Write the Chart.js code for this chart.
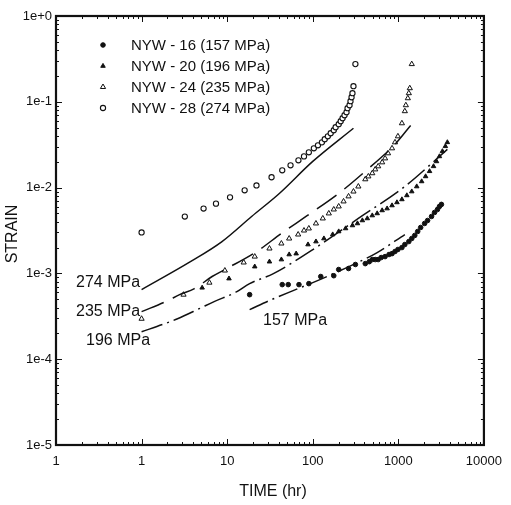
<!DOCTYPE html>
<html><head><meta charset="utf-8">
<script src="https://cdn.jsdelivr.net/npm/chart.js@4/dist/chart.umd.min.js"></script>
<style>html,body{margin:0;padding:0;background:#fff}#wrap{width:511px;height:505px;position:relative}</style>
</head><body><div id="wrap"><canvas id="c" width="511" height="505"></canvas></div>
<script>
// ---- axis ticks ----
const xTickValues = [0.1, 1, 10, 100, 1000, 10000];
const xTickLabels = ["1", "1", "10", "100", "1000", "10000"];
const yTickValues = [1e-5, 1e-4, 1e-3, 1e-2, 1e-1, 1];
const yTickLabels = ["1e-5", "1e-4", "1e-3", "1e-2", "1e-1", "1e+0"];

// ---- measured data ----
const nyw16Time = [18.3,44,51.7,69,90,124,176,201,262,315,411,458,496,537,581,630,700,779,844,914,989,1101,1191,1326,1435,1555,1683,1824,2028,2198,2443,2648,2866,3022,3187];
const nyw16Strain = [5.65e-4,7.4e-4,7.4e-4,7.4e-4,7.6e-4,9.2e-4,9.4e-4,1.11e-3,1.14e-3,1.27e-3,1.30e-3,1.37e-3,1.45e-3,1.45e-3,1.45e-3,1.53e-3,1.57e-3,1.66e-3,1.70e-3,1.80e-3,1.90e-3,2.0e-3,2.17e-3,2.35e-3,2.55e-3,2.77e-3,3.08e-3,3.43e-3,3.82e-3,4.14e-3,4.61e-3,5.13e-3,5.56e-3,6.03e-3,6.37e-3];

const nyw20Time = [5.1,10.5,21,31.2,43,53,64,88,109,135,171,201,242,291,333,380,434,496,566,647,739,844,963,1101,1257,1435,1640,1874,2083,2317,2578,2792,3022,3273,3545,3740];
const nyw20Strain = [6.8e-4,8.7e-4,1.20e-3,1.37e-3,1.45e-3,1.66e-3,1.70e-3,2.17e-3,2.35e-3,2.55e-3,2.84e-3,3.08e-3,3.34e-3,3.62e-3,3.82e-3,4.14e-3,4.37e-3,4.73e-3,5.0e-3,5.42e-3,5.7e-3,6.19e-3,6.72e-3,7.28e-3,8.11e-3,9.0e-3,0.0103,0.0118,0.0135,0.0155,0.0177,0.0202,0.0231,0.0265,0.0303,0.0337];

const nyw24Time = [1.0,3.09,6.2,9.4,15.6,21,31.2,43,53,67.5,79,90,109,131,154,176,201,229,262,299,341,411,446,496,537,581,647,700,758,844,914,989,1101,1191,1224,1291,1326,1361,1435];
const nyw24Strain = [2.96e-4,5.65e-4,7.8e-4,1.08e-3,1.34e-3,1.57e-3,1.95e-3,2.23e-3,2.55e-3,2.84e-3,3.16e-3,3.34e-3,3.82e-3,4.37e-3,5.0e-3,5.56e-3,6.03e-3,6.9e-3,7.9e-3,9.0e-3,0.0103,0.0125,0.0135,0.0147,0.0163,0.0177,0.0197,0.0219,0.0251,0.0287,0.0337,0.0396,0.0562,0.0777,0.0912,0.110,0.126,0.144,0.275];

const nyw28Time = [1.0,3.2,5.3,7.4,10.8,16,22,33,44,55,68,79,90,103,115,128,138,150,162,176,185,201,212,223,235,248,255,269,276,284,291,299,315];
const nyw28Strain = [0.0030,0.0046,0.0057,0.0065,0.0077,0.0093,0.0106,0.0132,0.0159,0.0182,0.0208,0.0231,0.0258,0.0287,0.0311,0.0337,0.0366,0.0396,0.043,0.0466,0.0505,0.0548,0.0593,0.0643,0.0697,0.0756,0.0842,0.0912,0.1016,0.113,0.126,0.152,0.275];

// ---- model curves ----
const m274Time = [1,3.72,8.7,19.3,40.7,100,299];
const m274Strain = [6.47e-4,1.37e-3,2.35e-3,4.61e-3,8.55e-3,0.0202,0.0492];
const m235Time = [1,2.02,2.78,4.14,6.67,9.4,22.1,43,83.4,201,411,914,1397];
const m235Strain = [3.58e-4,4.81e-4,5.65e-4,6.64e-4,9.2e-4,1.11e-3,1.80e-3,2.92e-3,4.61e-3,8.55e-3,0.0155,0.032,0.0533];
const m196Time = [1,1.86,2.63,4.72,7.04,13,18.3,34.7,109,341,1191,3740];
const m196Strain = [2.09e-4,2.59e-4,2.96e-4,3.88e-4,4.69e-4,6.12e-4,7.6e-4,9.95e-4,2.0e-3,4.37e-3,0.0103,0.0279];
const m157Time = [18.3,32.9,59,100,185,315,566,1191];
const m157Strain = [3.78e-4,4.94e-4,6.3e-4,7.8e-4,1.02e-3,1.30e-3,1.75e-3,2.84e-3];

// ---- text ----
const legendLabels = ["NYW - 16 (157 MPa)", "NYW - 20 (196 MPa)", "NYW - 24 (235 MPa)", "NYW - 28 (274 MPa)"];
const curveLabels = ["274 MPa", "235 MPa", "196 MPa", "157 MPa"];
const xTitle = "TIME (hr)";
const yTitle = "STRAIN";

const INK = '#111';
const pts = (t, s) => t.map((v, i) => ({x: v, y: s[i]}));

const markerStyles = [
  {pointStyle: 'circle', radius: 2.3, fill: INK, border: INK, bw: 1},
  {pointStyle: 'triangle', radius: 2.6, fill: INK, border: INK, bw: 1},
  {pointStyle: 'triangle', radius: 3, fill: '#fff', border: INK, bw: 1},
  {pointStyle: 'circle', radius: 2.6, fill: '#fff', border: INK, bw: 1.1}
];
const seriesData = [pts(nyw16Time, nyw16Strain), pts(nyw20Time, nyw20Strain), pts(nyw24Time, nyw24Strain), pts(nyw28Time, nyw28Strain)];

const datasets = [];
const modelDefs = [
  {data: pts(m274Time, m274Strain), dash: []},
  {data: pts(m235Time, m235Strain), dash: [24, 10]},
  {data: pts(m196Time, m196Strain), dash: [22, 5, 2, 5]},
  {data: pts(m157Time, m157Strain), dash: [20, 5, 2, 5]}
];
modelDefs.forEach(m => datasets.push({
  data: m.data, showLine: true, borderColor: INK, borderWidth: 1.5, borderDash: m.dash,
  pointRadius: 0, pointHoverRadius: 0, cubicInterpolationMode: 'monotone', fill: false
}));
seriesData.forEach((d, i) => {
  const st = markerStyles[i];
  datasets.push({data: d, showLine: false, pointStyle: st.pointStyle, pointRadius: st.radius,
    pointBackgroundColor: st.fill, pointBorderColor: st.border, pointBorderWidth: st.bw, pointHoverRadius: st.radius});
});

const decor = {
  id: 'decor',
  afterDatasetsDraw(chart) {
    const {ctx, chartArea: a, scales: {x, y}} = chart;
    ctx.save();
    ctx.strokeStyle = INK;
    ctx.lineWidth = 1;
    ctx.beginPath();
    for (let e = -1; e < 4; e++) {
      for (let k = 1; k < 10; k++) {
        const v = k * Math.pow(10, e);
        const px = Math.round(x.getPixelForValue(v)) + 0.5;
        const len = k === 1 ? 6 : 3;
        ctx.moveTo(px, a.bottom); ctx.lineTo(px, a.bottom - len);
        ctx.moveTo(px, a.top); ctx.lineTo(px, a.top + len);
      }
    }
    for (let e = -5; e < 0; e++) {
      for (let k = 1; k < 10; k++) {
        const v = k * Math.pow(10, e);
        const py = Math.round(y.getPixelForValue(v)) + 0.5;
        const len = k === 1 ? 6 : 3;
        ctx.moveTo(a.left, py); ctx.lineTo(a.left + len, py);
        ctx.moveTo(a.right, py); ctx.lineTo(a.right - len, py);
      }
    }
    ctx.stroke();
    ctx.lineWidth = 2.2;
    ctx.strokeRect(a.left, a.top, a.right - a.left, a.bottom - a.top);
    ctx.restore();
  },
  afterDraw(chart) {
    const {ctx} = chart;
    ctx.save();
    ctx.fillStyle = INK;
    ctx.strokeStyle = INK;
    const rows = [45, 66, 87, 108];
    ctx.font = '15px "Liberation Sans", Arial, sans-serif';
    ctx.textBaseline = 'middle';
    ctx.textAlign = 'left';
    legendLabels.forEach((lab, i) => {
      const st = markerStyles[i];
      ctx.fillStyle = st.fill; ctx.lineWidth = st.bw;
      ctx.beginPath();
      if (st.pointStyle === 'circle') {
        ctx.arc(103, rows[i], st.radius, 0, Math.PI * 2);
      } else {
        const r = st.radius;
        ctx.moveTo(103, rows[i] - r);
        ctx.lineTo(103 + r * 0.866, rows[i] + r * 0.5);
        ctx.lineTo(103 - r * 0.866, rows[i] + r * 0.5);
        ctx.closePath();
      }
      ctx.fill(); ctx.stroke();
      ctx.fillStyle = INK;
      ctx.fillText(lab, 131, rows[i] + 1);
    });
    ctx.font = '16px "Liberation Sans", Arial, sans-serif';
    ctx.fillText(curveLabels[0], 76, 283);
    ctx.fillText(curveLabels[1], 76, 312);
    ctx.fillText(curveLabels[2], 86, 341);
    ctx.fillText(curveLabels[3], 263, 321);
    ctx.textAlign = 'center';
    ctx.font = '16px "Liberation Sans", Arial, sans-serif';
    ctx.fillText(xTitle, 273, 492);
    ctx.translate(13, 234);
    ctx.rotate(-Math.PI / 2);
    ctx.fillText(yTitle, 0, 0);
    ctx.restore();
  }
};

Chart.defaults.font.family = '"Liberation Sans", Arial, sans-serif';
Chart.defaults.color = INK;

new Chart(document.getElementById('c'), {
  type: 'scatter',
  data: {datasets},
  options: {
    responsive: false,
    animation: false,
    events: [],
    layout: {padding: {top: 16, right: 19, left: 0, bottom: 0}},
    plugins: {legend: {display: false}, tooltip: {enabled: false}},
    scales: {
      x: {
        type: 'logarithmic', min: 0.1, max: 10000,
        afterBuildTicks: s => { s.ticks = xTickValues.map(v => ({value: v})); },
        afterFit: s => { s.height = 60; },
        grid: {display: false, drawTicks: false},
        border: {display: false},
        ticks: {autoSkip: false, maxRotation: 0, padding: 9, font: {size: 13}, color: INK,
          callback: (v, i) => xTickLabels[i]}
      },
      y: {
        type: 'logarithmic', min: 1e-5, max: 1,
        afterBuildTicks: s => { s.ticks = yTickValues.map(v => ({value: v})); },
        afterFit: s => { s.width = 56; },
        grid: {display: false, drawTicks: false},
        border: {display: false},
        ticks: {autoSkip: false, padding: 4, font: {size: 13}, color: INK,
          callback: (v, i) => yTickLabels[i]}
      }
    }
  },
  plugins: [decor]
});
</script>
</body></html>
